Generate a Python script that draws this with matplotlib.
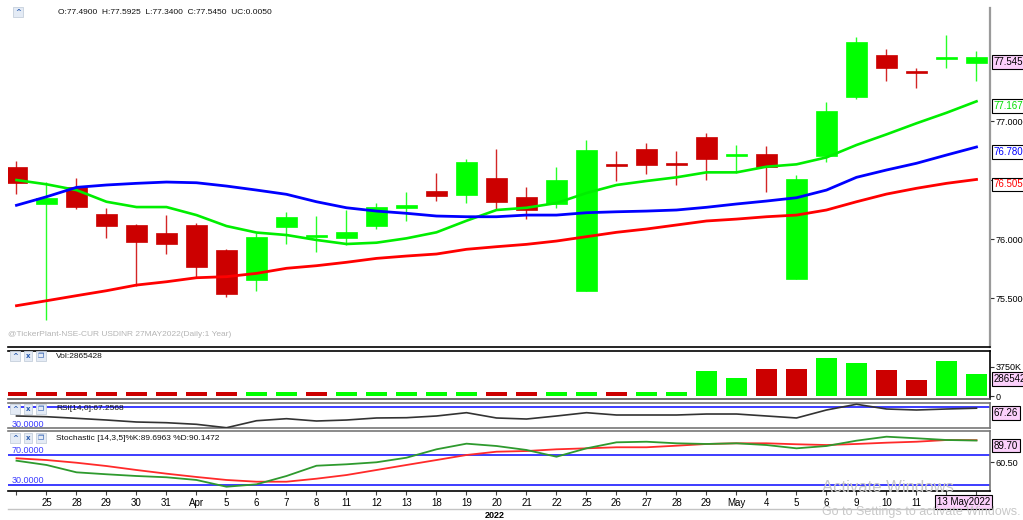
import matplotlib
matplotlib.use('Agg')
import matplotlib.pyplot as plt
import matplotlib.transforms as mtransforms
from matplotlib import font_manager
from matplotlib.patches import Rectangle
from matplotlib.lines import Line2D

# pick a narrow face if the box has one
names = {f.name for f in font_manager.fontManager.ttflist}
if 'Liberation Sans Narrow' in names:
    base, FS = 'Liberation Sans Narrow', 7
else:
    base, FS = 'Liberation Sans', 6
plt.rcParams['font.family'] = [base, 'DejaVu Sans']

# ---- data (USDINR May 2022 future, daily) ----
dates = ['', '25', '28', '29', '30', '31', 'Apr', '5', '6', '7', '8', '11', '12', '13', '18', '19',
         '20', '21', '22', '25', '26', '27', '28', '29', 'May', '4', '5', '6', '9', '10', '11', '12', '13']

opens = [76.613, 76.299, 76.438, 76.214, 76.121, 76.048, 76.121, 75.909, 75.653, 76.104, 76.014,
         76.006, 76.113, 76.265, 76.409, 76.375, 76.517, 76.358, 76.299, 75.559, 76.630, 76.763,
         76.644, 76.864, 76.706, 76.720, 75.661, 76.703, 77.201, 77.557, 77.424, 77.524, 77.490]
highs = [76.661, 76.486, 76.520, 76.265, 76.125, 76.206, 76.133, 75.912, 76.048, 76.231, 76.195,
         76.246, 76.308, 76.398, 76.562, 76.678, 76.763, 76.443, 76.613, 76.839, 76.746, 76.814,
         76.746, 76.898, 76.797, 76.788, 76.545, 77.161, 77.714, 77.608, 77.447, 77.729, 77.5925]
lows = [76.379, 75.314, 76.254, 76.006, 75.604, 75.875, 75.672, 75.506, 75.559, 75.955, 75.887,
        75.949, 76.082, 76.155, 76.325, 76.308, 76.254, 76.167, 76.265, 75.559, 76.494, 76.551,
        76.458, 76.500, 76.562, 76.401, 75.661, 76.655, 77.186, 77.336, 77.277, 77.447, 77.340]
closes = [76.477, 76.350, 76.269, 76.108, 75.972, 75.955, 75.763, 75.534, 76.020, 76.189, 76.036,
          76.062, 76.271, 76.288, 76.367, 76.653, 76.316, 76.248, 76.500, 76.754, 76.619, 76.627,
          76.630, 76.681, 76.720, 76.608, 76.508, 77.085, 77.672, 77.447, 77.413, 77.545, 77.545]

ma_fast = [76.500, 76.464, 76.415, 76.316, 76.271, 76.271, 76.203, 76.110, 76.055, 76.034, 75.992,
           75.958, 75.969, 76.006, 76.057, 76.155, 76.246, 76.265, 76.305, 76.390, 76.458, 76.492,
           76.523, 76.565, 76.565, 76.613, 76.633, 76.692, 76.797, 76.887, 76.981, 77.070, 77.167]
ma_mid = [76.286, 76.358, 76.438, 76.458, 76.472, 76.483, 76.477, 76.449, 76.415, 76.379, 76.316,
          76.265, 76.237, 76.218, 76.195, 76.189, 76.189, 76.203, 76.203, 76.223, 76.231, 76.237,
          76.246, 76.269, 76.297, 76.322, 76.350, 76.415, 76.523, 76.585, 76.642, 76.712, 76.780]
ma_slow = [75.435, 75.477, 75.520, 75.562, 75.610, 75.638, 75.672, 75.681, 75.709, 75.752, 75.774,
           75.803, 75.836, 75.856, 75.873, 75.913, 75.935, 75.955, 75.983, 76.020, 76.057, 76.085,
           76.119, 76.153, 76.169, 76.189, 76.203, 76.246, 76.316, 76.381, 76.430, 76.472, 76.505]

volume_k = [470, 470, 470, 470, 470, 470, 470, 470, 470, 470, 470, 470, 470, 470, 470, 470,
            470, 470, 470, 470, 470, 470, 470, 3240, 2340, 3456, 3456, 4900, 4260, 3370, 2090,
            4520, 2865.428]

rsi = [53.1, 51.8, 48.9, 45.8, 42.2, 40.9, 38.0, 31.8, 44.5, 48.2, 44.0, 45.8, 49.5, 50.0, 53.1,
       59.1, 49.5, 47.6, 53.1, 59.1, 54.9, 54.9, 54.9, 56.7, 56.7, 53.1, 49.5, 64.0, 74.4, 65.8,
       64.0, 65.8, 67.26]

stoch_k = [62.8, 57.1, 47.3, 44.7, 42.4, 40.7, 37.1, 28.1, 31.3, 42.4, 56.1, 58.0, 60.7, 66.8, 78.0,
           85.5, 82.4, 77.1, 68.1, 79.3, 87.3, 88.1, 86.0, 85.1, 86.0, 83.7, 79.3, 82.4, 89.5, 94.8,
           92.7, 90.4, 89.70]
stoch_d = [66.0, 63.7, 60.1, 55.7, 50.4, 45.5, 41.1, 37.1, 34.8, 34.8, 38.8, 43.7, 50.4, 57.1, 63.7,
           70.4, 74.8, 75.7, 78.0, 79.3, 80.7, 80.7, 82.8, 85.1, 86.0, 86.0, 84.7, 83.7, 85.1, 86.8,
           88.1, 90.4, 90.15]

UP, DN = '#00ff00', '#cc0000'
BLUE = '#3c3cff'
PINK = '#fbd0fb'
W, H = 1023, 520


def fx(x):
    return x / W


def fy(y):
    return 1 - y / H


def rect(x0, y0, x1, y1):
    return [fx(x0), fy(y1), fx(x1) - fx(x0), fy(y0) - fy(y1)]


fig = plt.figure(figsize=(10.23, 5.2), dpi=100)
fig.patch.set_facecolor('white')
ax = fig.add_axes(rect(8, 8, 990, 347))
axv = fig.add_axes(rect(8, 351, 990, 399), sharex=ax)
axr = fig.add_axes(rect(8, 403, 990, 428), sharex=ax)
axs = fig.add_axes(rect(8, 431, 990, 491), sharex=ax)

n = len(closes)
xs = list(range(n))
ax.set_xlim(-0.283, 32.45)

# ---- price panel ----
for i in xs:
    o, h, l, c = opens[i], highs[i], lows[i], closes[i]
    col = UP if c >= o else DN
    ax.vlines(i, l, h, color=col, lw=1, alpha=0.85, zorder=2)
    bot, ht = min(o, c), abs(c - o)
    if ht < 0.015:
        bot, ht = (o + c) / 2 - 0.0075, 0.015
    ax.add_patch(Rectangle((i - 0.35, bot), 0.7, ht, fc=col, ec=col, lw=0.5, zorder=3))

ax.plot(xs, ma_fast, color='#00ee00', lw=1.9, zorder=4)
ax.plot(xs, ma_mid, color='#0000ff', lw=2.0, zorder=4)
ax.plot(xs, ma_slow, color='#ff0000', lw=2.0, zorder=4)
ax.set_ylim(75.085, 77.958)

ax.yaxis.tick_right()
ax.set_yticks([75.5, 76.0, 76.5, 77.0])
ax.set_yticklabels(['%.4f' % v for v in [75.5, 76.0, 76.5, 77.0]])

# ---- volume ----
vcols = []
for i in xs:
    if i == 0:
        vcols.append(UP if closes[0] >= opens[0] else DN)
    else:
        vcols.append(UP if closes[i] >= closes[i - 1] else DN)
axv.bar(xs, volume_k, width=0.7, color=vcols, zorder=2)
axv.set_ylim(-384, 5760)
axv.yaxis.tick_right()
axv.set_yticks([0, 3750])
axv.set_yticklabels(['0', '3750K'])

# ---- RSI ----
axr.axhline(70, color=BLUE, lw=1.4, zorder=1)
axr.axhline(30, color=BLUE, lw=1.4, zorder=1)
axr.plot(xs, rsi, color='#333333', lw=1.2, zorder=3)
axr.set_ylim(31.3, 76.7)
axr.yaxis.tick_right()
axr.set_yticks([])
axr.text(-0.15, 30, '30.0000', color=BLUE, fontsize=FS + 0.5, va='bottom', ha='left', clip_on=True)

# ---- stochastic ----
axs.axhline(70, color=BLUE, lw=1.4, zorder=1)
axs.axhline(30, color=BLUE, lw=1.4, zorder=1)
axs.plot(xs, stoch_d, color='#ff2a2a', lw=1.3, zorder=3)
axs.plot(xs, stoch_k, color='#2e9a2e', lw=1.3, zorder=3)
axs.set_ylim(22.4, 102.4)
axs.yaxis.tick_right()
axs.set_yticks([60.5])
axs.set_yticklabels(['60.50'])
axs.text(-0.15, 71, '70.0000', color=BLUE, fontsize=FS + 0.5, va='bottom', ha='left')
axs.text(-0.15, 31, '30.0000', color=BLUE, fontsize=FS + 0.5, va='bottom', ha='left')

axs.set_xticks(xs)
axs.set_xticklabels(dates)
axs.tick_params(axis='x', length=3, width=0.8, color='#444444', labelsize=FS + 1, pad=2)
for a in (ax, axv, axr):
    a.tick_params(axis='x', which='both', bottom=False, labelbottom=False)

for a in (ax, axv, axr, axs):
    a.set_facecolor('white')
    a.spines['left'].set_visible(False)
    a.tick_params(axis='y', length=3, width=0.8, color='#333333', labelsize=FS + 0.5, pad=1)
    for s in a.spines.values():
        s.set_linewidth(1.2)

ax.spines['top'].set_visible(False)
ax.spines['right'].set_color('#9a9a9a')
ax.spines['right'].set_linewidth(1.6)
ax.spines['bottom'].set_color('black')
axv.spines['bottom'].set_color('#555555')
for s in ('top', 'bottom', 'right'):
    axr.spines[s].set_color('#777777')
axs.spines['top'].set_color('#777777')
axs.spines['right'].set_color('#777777')

# ---- value boxes on the right edge ----
def side_label(a, y, txt, color, fc):
    tr = mtransforms.blended_transform_factory(a.transAxes, a.transData)
    a.text(1.004, y, txt, transform=tr, color=color, fontsize=FS + 1, va='top', ha='left',
           clip_on=False, zorder=10,
           bbox=dict(boxstyle='square,pad=0.2', fc=fc, ec='black', lw=0.8))

side_label(ax, closes[-1], '%.3f' % closes[-1], 'black', PINK)
side_label(ax, ma_fast[-1], '%.3f' % ma_fast[-1], '#00dd00', 'white')
side_label(ax, ma_mid[-1], '%.3f' % ma_mid[-1], '#0000ff', 'white')
side_label(ax, ma_slow[-1], '%.3f' % ma_slow[-1], '#ff0000', 'white')
side_label(axv, volume_k[-1], '2865428', 'black', PINK)
side_label(axr, rsi[-1], '%.2f' % rsi[-1], 'black', PINK)
side_label(axs, stoch_k[-1], '%.2f' % stoch_k[-1], 'black', PINK)

# ---- header texts ----
fig.text(fx(58), fy(12), 'O:77.4900  H:77.5925  L:77.3400  C:77.5450  UC:0.0050',
         fontsize=FS, va='center', ha='left', color='#111111')
fig.text(fx(56), fy(356), 'Vol:2865428', fontsize=FS, va='center', ha='left', color='#111111')
fig.text(fx(56), fy(409), 'RSI[14,0]:67.2568', fontsize=FS, va='center', ha='left', color='#111111')
fig.text(fx(56), fy(438), 'Stochastic [14,3,5]%K:89.6963 %D:90.1472', fontsize=FS,
         va='center', ha='left', color='#111111')
fig.text(fx(8), fy(335), '@TickerPlant-NSE-CUR USDINR 27MAY2022(Daily:1 Year)', fontsize=FS,
         va='center', ha='left', color='#b4b4b4')


def icons(ypix, glyphs, x0=15):
    for k, g in enumerate(glyphs):
        fig.text(fx(x0 + k * 13), fy(ypix), g, fontsize=FS - 1, ha='center', va='center',
                 color='#2a5cb0', fontweight='bold', family='DejaVu Sans',
                 bbox=dict(boxstyle='square,pad=0.25', fc='#e4ebf5', ec='#c5cfdc', lw=0.6))

icons(12, ['^'], x0=18)
icons(356, ['^', 'x', '\u2750'])
icons(409, ['^', 'x', '\u2750'])
icons(438, ['^', 'x', '\u2750'])

# bottom date box and year
fig.text(fx(937), fy(502), '13 May2022', fontsize=FS + 1, ha='left', va='center', color='black',
         bbox=dict(boxstyle='square,pad=0.2', fc=PINK, ec='black', lw=0.8))
fig.text(fx(495), fy(515), '2022', fontsize=FS + 0.5, ha='center', va='center', fontweight='bold')
fig.add_artist(Line2D([fx(8), fx(990)], [fy(509), fy(509)], color='#c4c4c4', lw=1.0))

# windows watermark
fig.text(fx(822), fy(488), 'Activate Windows', fontsize=12, color='#c8c8c8', ha='left', va='center')
fig.text(fx(822), fy(512), 'Go to Settings to activate Windows.', fontsize=9, color='#c8c8c8',
         ha='left', va='center')

fig.savefig('out.png', dpi=100, facecolor='white')
